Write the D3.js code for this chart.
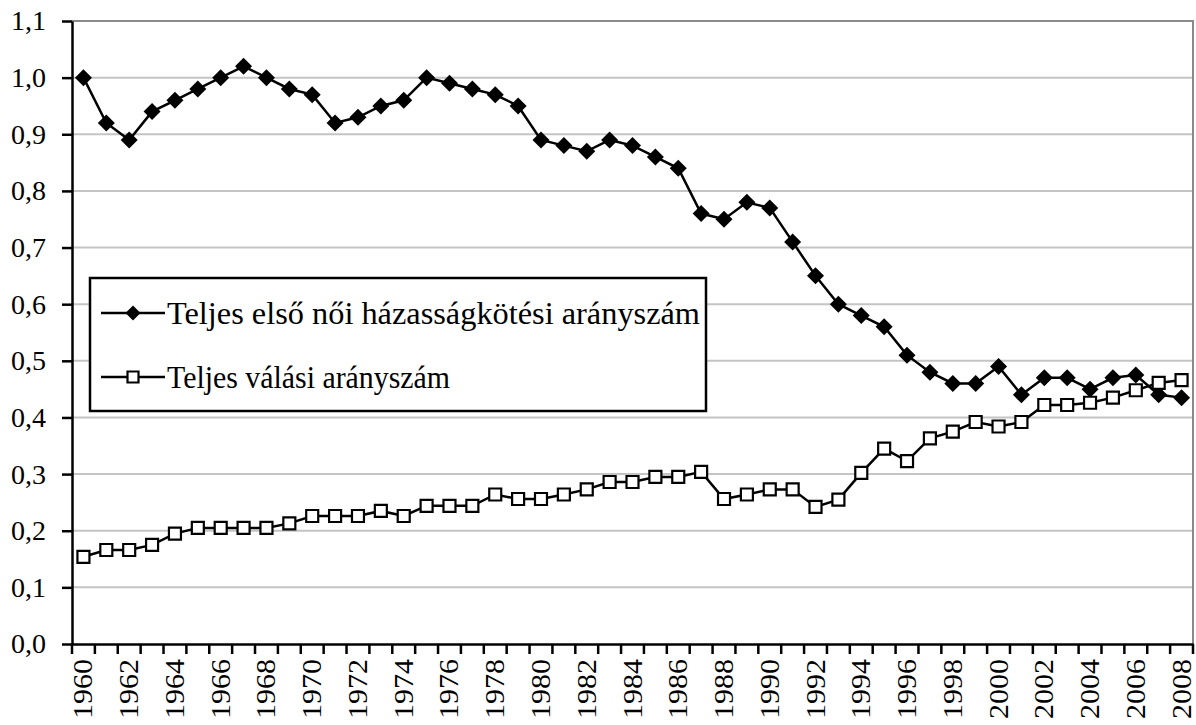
<!DOCTYPE html>
<html>
<head>
<meta charset="utf-8">
<script src="https://cdn.jsdelivr.net/npm/d3@7"></script>
<style>
	body { margin: 0; background: #fff; }
</style>
</head>
<body>
<svg id="chart" width="1196" height="725"></svg>
<script>
var years = [1960, 1961, 1962, 1963, 1964, 1965, 1966, 1967, 1968, 1969,
	1970, 1971, 1972, 1973, 1974, 1975, 1976, 1977, 1978, 1979,
	1980, 1981, 1982, 1983, 1984, 1985, 1986, 1987, 1988, 1989,
	1990, 1991, 1992, 1993, 1994, 1995, 1996, 1997, 1998, 1999,
	2000, 2001, 2002, 2003, 2004, 2005, 2006, 2007, 2008];

var marriage = [1.00, 0.92, 0.89, 0.94, 0.96, 0.98, 1.00, 1.02, 1.00, 0.98,
	0.97, 0.92, 0.93, 0.95, 0.96, 1.00, 0.99, 0.98, 0.97, 0.95,
	0.89, 0.88, 0.87, 0.89, 0.88, 0.86, 0.84, 0.76, 0.75, 0.78,
	0.77, 0.71, 0.65, 0.60, 0.58, 0.56, 0.51, 0.48, 0.46, 0.46,
	0.49, 0.44, 0.47, 0.47, 0.45, 0.47, 0.475, 0.44, 0.435];

var divorce = [0.154, 0.166, 0.166, 0.175, 0.195, 0.205, 0.205, 0.205, 0.205, 0.213,
	0.226, 0.226, 0.226, 0.235, 0.226, 0.244, 0.244, 0.244, 0.264, 0.256,
	0.256, 0.264, 0.273, 0.286, 0.286, 0.295, 0.295, 0.304, 0.256, 0.264,
	0.273, 0.273, 0.242, 0.255, 0.302, 0.345, 0.323, 0.363, 0.375, 0.392,
	0.384, 0.392, 0.422, 0.422, 0.426, 0.435, 0.448, 0.461, 0.466];

var yTicks = [0, 0.1, 0.2, 0.3, 0.4, 0.5, 0.6, 0.7, 0.8, 0.9, 1.0, 1.1];
var xLabels = [1960, 1962, 1964, 1966, 1968, 1970, 1972, 1974, 1976, 1978, 1980, 1982,
	1984, 1986, 1988, 1990, 1992, 1994, 1996, 1998, 2000, 2002, 2004, 2006, 2008];

var seriesNames = ["Teljes első női házasságkötési arányszám", "Teljes válási arányszám"];

var FONT = "'Liberation Serif', 'Times New Roman', Times, serif";
var pl = 72, pr = 1193, pt = 21, pb = 644;
var svg = d3.select("#chart");

var x = d3.scaleBand().domain(years).range([pl, pr]).padding(0);
var y = d3.scaleLinear().domain([0, 1.1]).range([pb, pt]);
function cx(d, i) { return x(years[i]) + x.bandwidth() / 2; }

// gridlines
svg.append("g").selectAll("line").data(yTicks.filter(function(v) { return v > 0 && v < 1.1; }))
	.enter().append("line")
	.attr("x1", pl).attr("x2", pr)
	.attr("y1", function(v) { return y(v); }).attr("y2", function(v) { return y(v); })
	.attr("stroke", "#c4c4c4").attr("stroke-width", 2);

// plot border top / right
svg.append("path")
	.attr("d", "M" + pl + "," + y(1.1) + "H" + pr + "V" + pb)
	.attr("fill", "none").attr("stroke", "#8a8a8a").attr("stroke-width", 2);

// y axis
var yAxis = svg.append("g").attr("transform", "translate(" + pl + ",0)")
	.call(d3.axisLeft(y).tickValues(yTicks).tickSize(10).tickPadding(16).tickSizeOuter(0)
		.tickFormat(function(v) { return v.toFixed(1).replace(".", ","); }));
yAxis.attr("font-family", null).attr("font-size", null);
yAxis.select(".domain").attr("stroke", "#000").attr("stroke-width", 2.5);
yAxis.selectAll(".tick line").attr("stroke", "#000").attr("stroke-width", 2.5);
yAxis.selectAll("text").style("font-family", FONT).style("font-size", "28px").attr("fill", "#000");

// x axis: ticks sit between categories
var xAxis = svg.append("g").attr("transform", "translate(0," + pb + ")")
	.call(d3.axisBottom(x).tickSize(10).tickSizeOuter(0).tickFormat(""));
xAxis.select(".domain").attr("stroke", "#000").attr("stroke-width", 2.5);
xAxis.selectAll(".tick").attr("transform", function(d) { return "translate(" + x(d) + ",0)"; });
xAxis.selectAll(".tick line").attr("stroke", "#000").attr("stroke-width", 2.5);
xAxis.append("line").attr("x1", pr).attr("x2", pr).attr("y1", 0).attr("y2", 10)
	.attr("stroke", "#000").attr("stroke-width", 2.5);

svg.append("g").selectAll("text").data(xLabels).enter().append("text")
	.attr("transform", function(d) {
		return "translate(" + (x(d) + x.bandwidth() / 2 + 9) + "," + (pb + 15) + ") rotate(-90)";
	})
	.attr("text-anchor", "end")
	.style("font-family", FONT).style("font-size", "27px")
	.attr("textLength", 60).attr("lengthAdjust", "spacingAndGlyphs")
	.text(function(d) { return d; });

var line = d3.line().x(cx).y(function(d) { return y(d); });

function drawSeries(data, marker) {
	var g = svg.append("g");
	g.append("path").attr("d", line(data)).attr("fill", "none")
		.attr("stroke", "#000").attr("stroke-width", 2.5);
	g.selectAll("path.m").data(data).enter().append("path").attr("class", "m")
		.attr("transform", function(d, i) { return "translate(" + cx(d, i) + "," + y(d) + ")"; })
		.each(function() { marker(d3.select(this)); });
}

function diamond(sel, r) {
	sel.attr("d", "M0," + (-r) + "L" + r + ",0L0," + r + "L" + (-r) + ",0Z").attr("fill", "#000");
}
function square(sel, h) {
	sel.attr("d", "M" + (-h) + "," + (-h) + "H" + h + "V" + h + "H" + (-h) + "Z")
		.attr("fill", "#fff").attr("stroke", "#000").attr("stroke-width", 2.2);
}

drawSeries(marriage, function(s) { diamond(s, 8.5); });
drawSeries(divorce, function(s) { square(s, 6); });

// legend
var lg = svg.append("g");
lg.append("rect").attr("x", 90).attr("y", 278).attr("width", 616).attr("height", 133)
	.attr("fill", "#fff").attr("stroke", "#000").attr("stroke-width", 2.5);
var rows = [
	{ y: 313, name: seriesNames[0], len: 533, mk: function(s) { diamond(s, 7.5); } },
	{ y: 377, name: seriesNames[1], len: 283, mk: function(s) { square(s, 5.5); } }
];
rows.forEach(function(r) {
	lg.append("line").attr("x1", 101).attr("x2", 165).attr("y1", r.y).attr("y2", r.y)
		.attr("stroke", "#000").attr("stroke-width", 2.5);
	r.mk(lg.append("path").attr("transform", "translate(133," + r.y + ")"));
	lg.append("text").attr("x", 167).attr("y", r.y + 11)
		.style("font-family", FONT).style("font-size", "32px")
		.attr("textLength", r.len).attr("lengthAdjust", "spacingAndGlyphs")
		.text(r.name);
});
</script>
</body>
</html>
